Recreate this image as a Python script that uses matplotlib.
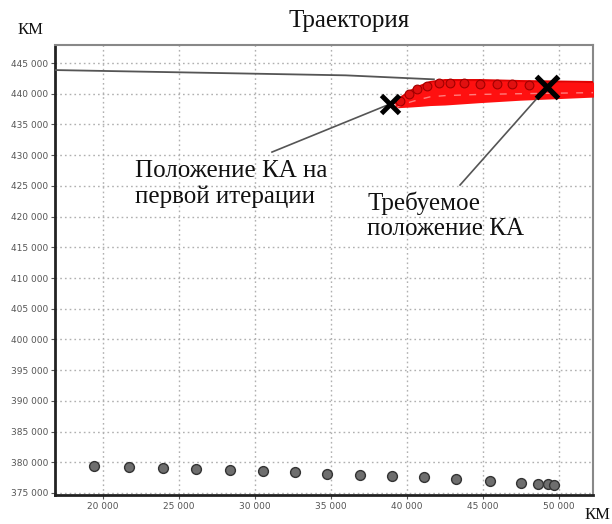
import matplotlib
matplotlib.use("Agg")
import matplotlib.pyplot as plt
from matplotlib.ticker import FuncFormatter

# --- data ---
gray_x = [19440, 21740, 24000, 26150, 28360, 30540, 32690, 34770, 36950, 39030,
          41180, 43280, 45460, 47560, 48620, 49310, 49690]
gray_y = [379430, 379200, 379020, 378900, 378740, 378620, 378450, 378160, 377990,
          377760, 377590, 377300, 377010, 376670, 376490, 376490, 376380]

line_x = [16875, 36000, 41800]
line_y = [443860, 443000, 442350]

band_top_x = [39240, 39570, 40230, 40890, 41550, 42530, 44840, 47470, 52300]
band_top_y = [438490, 439300, 440440, 441260, 441910, 442230, 442230, 442070, 441910]
band_bot_y = [437670, 437750, 437840, 437950, 438080, 438170, 438560, 438950, 439460]

red_x = [39570, 40160, 40690, 41350, 42140, 42860, 43780, 44840, 45950, 46940, 48060]
red_y = [438820, 439960, 440770, 441260, 441750, 441750, 441750, 441580, 441580, 441580, 441420]

start_pt = (38910, 438330)
target_pt = (49240, 441090)
start_leader = (31150, 430510)
target_leader = (43520, 425140)

x_ticks = [20000, 25000, 30000, 35000, 40000, 45000, 50000]
y_ticks = list(range(375000, 445001, 5000))

title = "Траектория"
label_start = "Положение КА на\nпервой итерации"
label_target = "Требуемое\nположение КА"
unit = "КМ"

# --- figure ---
fig = plt.figure(figsize=(6.12, 5.24), dpi=100)
ax = fig.add_axes([0.0899, 0.0553, 0.969 - 0.0899, 0.914 - 0.0553])
ax.set_xlim(16875, 52270)
ax.set_ylim(374670, 447930)

ax.set_xticks(x_ticks)
ax.set_yticks(y_ticks)
fmt = FuncFormatter(lambda v, p: f"{int(v):,}".replace(",", " "))
ax.xaxis.set_major_formatter(fmt)
ax.yaxis.set_major_formatter(fmt)
ax.tick_params(labelsize=6.5, labelcolor="#555555", length=3, width=0.8,
               color="#555555", pad=2)
ax.grid(True, color="#b0b0b0", linestyle=(0, (1.2, 2.2)), linewidth=1.0)
ax.set_axisbelow(True)

for s in ("left", "bottom"):
    ax.spines[s].set_linewidth(2.0)
    ax.spines[s].set_color("#222222")
for s in ("top", "right"):
    ax.spines[s].set_linewidth(1.5)
    ax.spines[s].set_color("#888888")

# black trajectory line
ax.plot(line_x, line_y, color="#555555", linewidth=1.3, zorder=3)

# red band of trajectories
ax.fill_between(band_top_x, band_bot_y, band_top_y, color="#ff1010", linewidth=0, zorder=3)
ax.plot(band_top_x, band_top_y, color="#e00000", linewidth=1.5, zorder=3)
mid_y = [(a + b) / 2 for a, b in zip(band_top_y, band_bot_y)]
ax.plot(band_top_x, [m - 500 for m in mid_y], color="white", alpha=0.45,
        linewidth=1.0, linestyle=(0, (5, 6)), zorder=3)
ax.scatter(red_x, red_y, s=40, color="#e01010", edgecolors="#a00000",
           linewidths=0.8, zorder=4)

# gray points
ax.scatter(gray_x, gray_y, s=50, color="#6e6e6e", edgecolors="#333333",
           linewidths=1.0, zorder=4)

# leader lines
ax.plot([start_leader[0], start_pt[0]], [start_leader[1], start_pt[1]],
        color="#555555", lw=1.2, zorder=5)
ax.plot([target_leader[0], target_pt[0]], [target_leader[1], target_pt[1]],
        color="#555555", lw=1.2, zorder=5)

# markers
ax.plot(*start_pt, marker="x", markersize=13, markeredgewidth=3.5,
        color="black", zorder=6)
ax.plot(*target_pt, marker="x", markersize=16, markeredgewidth=3.8,
        color="black", zorder=6)

serif = ["Liberation Serif", "DejaVu Serif"]
ax.text(22130, 422210, label_start, fontsize=18, family=serif, color="#111111",
        ha="left", va="baseline", linespacing=1.2, zorder=7)
ax.text(37400, 417000, label_target, fontsize=18, family=serif, color="#111111",
        ha="left", va="baseline", linespacing=1.2, zorder=7)

fig.text(349 / 612, 1 - 21 / 524, title, fontsize=18, family=serif,
         ha="center", va="center", color="#111111")
fig.text(30 / 612, 1 - 30 / 524, unit, fontsize=12, family=serif,
         ha="center", va="center", color="#111111")
fig.text(597 / 612, 1 - 515 / 524, unit, fontsize=12, family=serif,
         ha="center", va="center", color="#111111")

fig.savefig("out.png", dpi=100)
